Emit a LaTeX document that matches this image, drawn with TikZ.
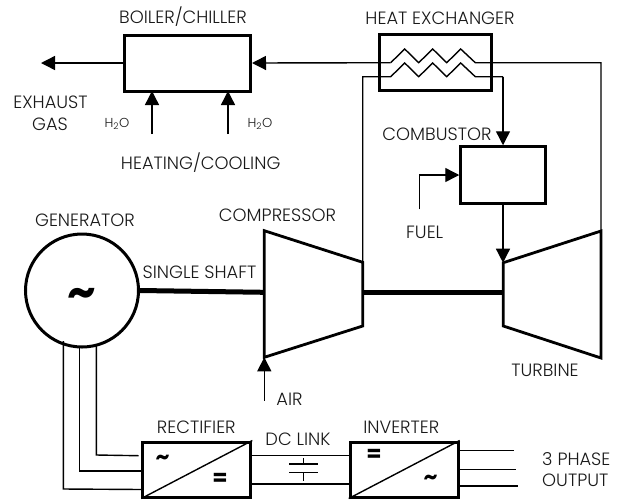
\documentclass[tikz,border=0pt]{standalone}
\usepackage{fontspec}
\setmainfont{Poppins Light}[BoldFont=Poppins Bold]
\usetikzlibrary{arrows.meta}

\begin{document}
\begin{tikzpicture}[x=1pt,y=-1pt,
    box/.style ={draw, line width=3pt, inner sep=0pt},
    bigbox/.style ={box, minimum width=108pt, minimum height=55pt},
    wire/.style ={line width=1.4pt},
    flow/.style ={wire, -{Triangle[length=14pt,width=14pt]}},
    heavy/.style ={line width=2.8pt, line join=miter},
    shaft/.style ={line width=5pt},
    tag/.style ={font=\fontsize{17.8pt}{19pt}\selectfont, text=black!90, inner sep=0pt},
    smalltag/.style ={font=\fontsize{13pt}{15pt}\selectfont, text=black!90, inner sep=0pt},
    sign/.style ={font=\bfseries\fontsize{22pt}{22pt}\selectfont, inner sep=0pt}]
   \useasboundingbox (0,0) rectangle (617,499);

   % boxes
   \node[box, minimum width=126pt, minimum height=56pt] (boiler) at (187.5,63) {};
   \node[box, minimum width=112pt, minimum height=56pt] (hx) at (435,62) {};
   \node[box, minimum width=84.5pt, minimum height=56.5pt] (comb) at (503,175) {};
   \node[bigbox] (rect) at (196.8,469.5) {};
   \node[bigbox] (inv) at (404.2,469.5) {};
   \node[circle, draw, line width=3pt, minimum size=113pt, inner sep=0pt] (gen) at (82,290.5) {};

   \coordinate (c1) at (264.3,230.7);
   \coordinate (c2) at (362.7,262.3);
   \coordinate (c3) at (362.7,326);
   \coordinate (c4) at (264.3,357.3);
   \coordinate (t1) at (601,231);
   \coordinate (t2) at (601,358);
   \coordinate (t3) at (503.3,326);
   \coordinate (t4) at (503.3,262.7);
   \draw[heavy] (c1) -- (c2) -- (c3) -- (c4) -- cycle;
   \draw[heavy] (t1) -- (t2) -- (t3) -- (t4) -- cycle;

   % shaft
   \coordinate (s1) at (264.3,292.3);
   \coordinate (s2) at (362.7,292.3);
   \coordinate (s3) at (503.3,292.3);
   \draw[shaft] (gen.east) -- (s1);
   \draw[shaft] (s2) -- (s3);

   % boiler
   \coordinate (ex) at (41,63);
   \coordinate (h1) at (152,134);
   \coordinate (h2) at (228,134);
   \coordinate (b1) at (152,91);
   \coordinate (b2) at (228,91);
   \draw[flow] (boiler.west) to (ex);
   \draw[flow] (h1) to (b1);
   \draw[flow] (h2) to (b2);

   % heat exchanger
   \coordinate (u0) at (390.7,62.7);
   \coordinate (u1) at (475.3,62.7);
   \coordinate (u2) at (601,62.7);
   \coordinate (l0) at (362.7,76.7);
   \coordinate (l1) at (390.7,76.7);
   \coordinate (l2) at (475.3,76.7);
   \coordinate (l3) at (503,76.7);
   \draw[flow] (u0) to (boiler.east);
   \draw[wire] (u0) -- ++(14,-13.7) -- ++(14,13.7) -- ++(14,-13.7) -- ++(14,13.7)
        -- ++(14,-13.7) -- (u1) -- (u2) -- (t1);
   \draw[wire] (c2) -- (l0) -- (l1) -- ++(14,-13.7) -- ++(14,13.7) -- ++(14,-13.7) -- ++(14,13.7)
        -- ++(14,-13.7) -- (l2) -- (l3);
   \draw[flow] (l3) to (comb.north);

   % combustor
   \coordinate (f1) at (419.3,209.3);
   \coordinate (f2) at (419.3,175);
   \coordinate (tin) at (503,262.7);
   \draw[wire] (f1) -- (f2);
   \draw[flow] (f2) to (comb.west);
   \draw[flow] (comb.south) to (tin);

   % air
   \coordinate (a1) at (264.3,400.7);
   \draw[flow] (a1) to (c4);

   % generator wires
   \coordinate (g1) at (63.3,341);
   \coordinate (g2) at (79.7,346);
   \coordinate (g3) at (96.3,346);
   \coordinate (g4) at (63.3,489);
   \coordinate (g5) at (79.7,471);
   \coordinate (g6) at (96.3,455);
   \coordinate (g7) at (142.7,489.5);
   \coordinate (g8) at (142.7,471);
   \coordinate (g9) at (138.7,455.7);
   \draw[wire] (g1) -- (g4) -- (g7);
   \draw[wire] (g2) -- (g5) -- (g8);
   \draw[wire] (g3) -- (g6) -- (g9);

   % converters
   \draw[wire] (rect.south west) to (rect.north east);
   \draw[wire] (inv.south west) to (inv.north east);
   \node[sign] (t-rect) at (162.7,459.5) {\char`~};
   \node[sign] (e-rect) at (220,479) {=};
   \node[sign] (e-inv) at (374,455.5) {=};
   \node[sign] (t-inv) at (430.7,480) {\char`~};
   \node[sign, font=\bfseries\fontsize{45pt}{45pt}\selectfont] (t-gen) at (82,298) {\char`~};

   % dc link
   \coordinate (d1) at (251,455.7);
   \coordinate (d2) at (350,455.7);
   \coordinate (d3) at (251,484);
   \coordinate (d4) at (350,484);
   \draw[wire] (d1) to (d2);
   \draw[wire] (d3) to (d4);
   \coordinate (p1) at (289,464);
   \coordinate (p2) at (317.7,464);
   \coordinate (p3) at (289,472.3);
   \coordinate (p4) at (317.7,472.3);
   \coordinate (p5) at (303.3,458);
   \coordinate (p6) at (303.3,464);
   \coordinate (p7) at (303.3,472.3);
   \coordinate (p8) at (303.3,481);
   \draw[wire] (p1) to (p2);
   \draw[wire] (p3) to (p4);
   \draw[wire] (p5) to (p6);
   \draw[wire] (p7) to (p8);

   % output
   \coordinate (o1) at (458.3,450.7);
   \coordinate (o2) at (514,450.7);
   \coordinate (o3) at (458.3,469.3);
   \coordinate (o4) at (516,469.3);
   \coordinate (o5) at (458.3,486);
   \coordinate (o6) at (517.7,486);
   \draw[wire] (o1) to (o2);
   \draw[wire] (o3) to (o4);
   \draw[wire] (o5) to (o6);

   % labels
   \node[tag] (l-boiler) at (183,16.7) {BOILER/CHILLER};
   \node[tag] (l-hx) at (440,18) {HEAT EXCHANGER};
   \node[tag] (l-exhaust) at (50.5,102.7) {EXHAUST};
   \node[tag] (l-gas) at (50,124) {GAS};
   \node[smalltag] (l-h2oa) at (117,124) {H\textsubscript{2}O};
   \node[smalltag] (l-h2ob) at (260,124) {H\textsubscript{2}O};
   \node[tag] (l-heat) at (200.7,163) {HEATING/COOLING};
   \node[tag] (l-comb) at (437,134.3) {COMBUSTOR};
   \node[tag] (l-fuel) at (424.7,232.3) {FUEL};
   \node[tag] (l-gen) at (85,220) {GENERATOR};
   \node[tag] (l-comp) at (277.5,215.7) {COMPRESSOR};
   \node[tag] (l-shaft) at (199.5,272) {SINGLE SHAFT};
   \node[tag] (l-turb) at (545,370.7) {TURBINE};
   \node[tag] (l-air) at (289.5,399.3) {AIR};
   \node[tag] (l-rect) at (196.3,427.3) {RECTIFIER};
   \node[tag] (l-dc) at (298,439) {DC LINK};
   \node[tag] (l-inv) at (401.3,427.3) {INVERTER};
   \node[tag, anchor=west] (l-three) at (542,459) {3 PHASE};
   \node[tag, anchor=west] (l-out) at (542,480) {OUTPUT};
 \end{tikzpicture}
\end{document}
